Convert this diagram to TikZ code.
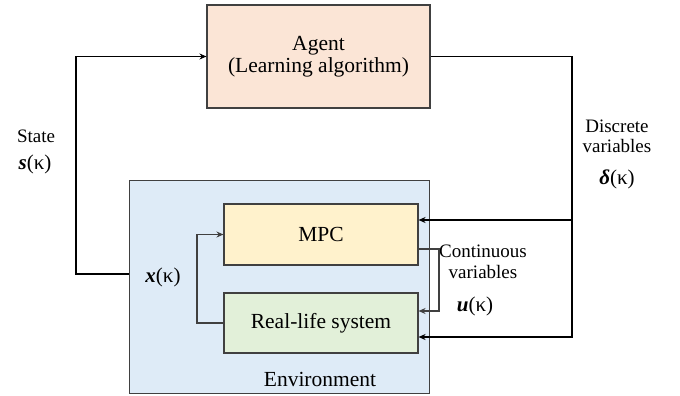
\documentclass[tikz,border=0pt]{standalone}
\usepackage{fontspec}
\setmainfont{Liberation Serif}
\usetikzlibrary{arrows.meta,calc}
\definecolor{agentfill}{HTML}{FBE5D6}
\definecolor{envfill}{HTML}{DEEBF7}
\definecolor{mpcfill}{HTML}{FFF2CC}
\definecolor{sysfill}{HTML}{E2F0D9}
\definecolor{edge}{HTML}{404040}
\begin{document}
\begin{tikzpicture}[x=1pt,y=-1pt,
  box/.style={draw=edge,line width=1.1pt,inner sep=0pt,align=center,font=\fontsize{21.5}{24}\selectfont},
  lbl/.style={inner sep=0pt,align=center,font=\fontsize{19}{22}\selectfont},
  mlbl/.style={inner sep=0pt,font=\fontsize{21}{24}\selectfont},
  outer/.style={draw=black,line width=1.5pt,-{Stealth[length=7pt,width=6pt]}},
  inner/.style={draw=edge,line width=1.1pt,-{Stealth[length=7pt,width=6pt]}}]
\useasboundingbox (0,0) rectangle (680,396);
\node[box,fill=envfill,line width=0.9pt,minimum width=300pt,minimum height=213pt] (env) at (279,286.5) {};
\node[box,fill=agentfill,minimum width=223pt,minimum height=103pt] (agent) at (318.5,56.5) {Agent\\[-2pt](Learning algorithm)};
\node[box,fill=mpcfill,minimum width=194pt,minimum height=61pt] (mpc) at (321,234.5) {MPC};
\node[box,fill=sysfill,minimum width=194pt,minimum height=60pt] (sys) at (321,323) {Real-life system};
\node[box,draw=none,fill=none] (envlbl) at (320,379) {Environment};
\node[mlbl] (xk) at (163,277) {\textbf{\textit{x}}(κ)};
\node[lbl] (state) at (36,136) {State};
\node[mlbl] (sk) at (35,164) {\textbf{\textit{s}}(κ)};
\node[lbl] (disc) at (617,136) {Discrete\\[-2pt]variables};
\node[mlbl] (dk) at (617,179) {\textbf{\textit{δ}}(κ)};
\node[lbl] (cont) at (483,262) {Continuous\\[-1pt]variables};
\node[mlbl] (uk) at (475,306) {\textbf{\textit{u}}(κ)};
\coordinate (lx) at (76,0);
\coordinate (rx) at (572,0);
\coordinate (cx) at (439,0);
\coordinate (fx) at (197,0);
% left loop
\draw[outer] ([yshift=12.5pt]env.west) -| (lx |- agent.west) -- (agent.west);
% right loop
\draw[outer] (agent.east) -| ($(rx |- sys.east)+(0,14)$) -- ([yshift=-14pt]sys.east);
\draw[outer] ($(rx |- mpc.east)+(0,-14.5)$) -- ([yshift=14.5pt]mpc.east);
% continuous
\draw[inner] ([yshift=-14.5pt]mpc.east) -| ($(cx |- sys.east)+(0,-12)$) -- ([yshift=12pt]sys.east);
% inner feedback
\draw[inner] (sys.west) -| (fx |- mpc.west) -- (mpc.west);
\end{tikzpicture}
\end{document}
